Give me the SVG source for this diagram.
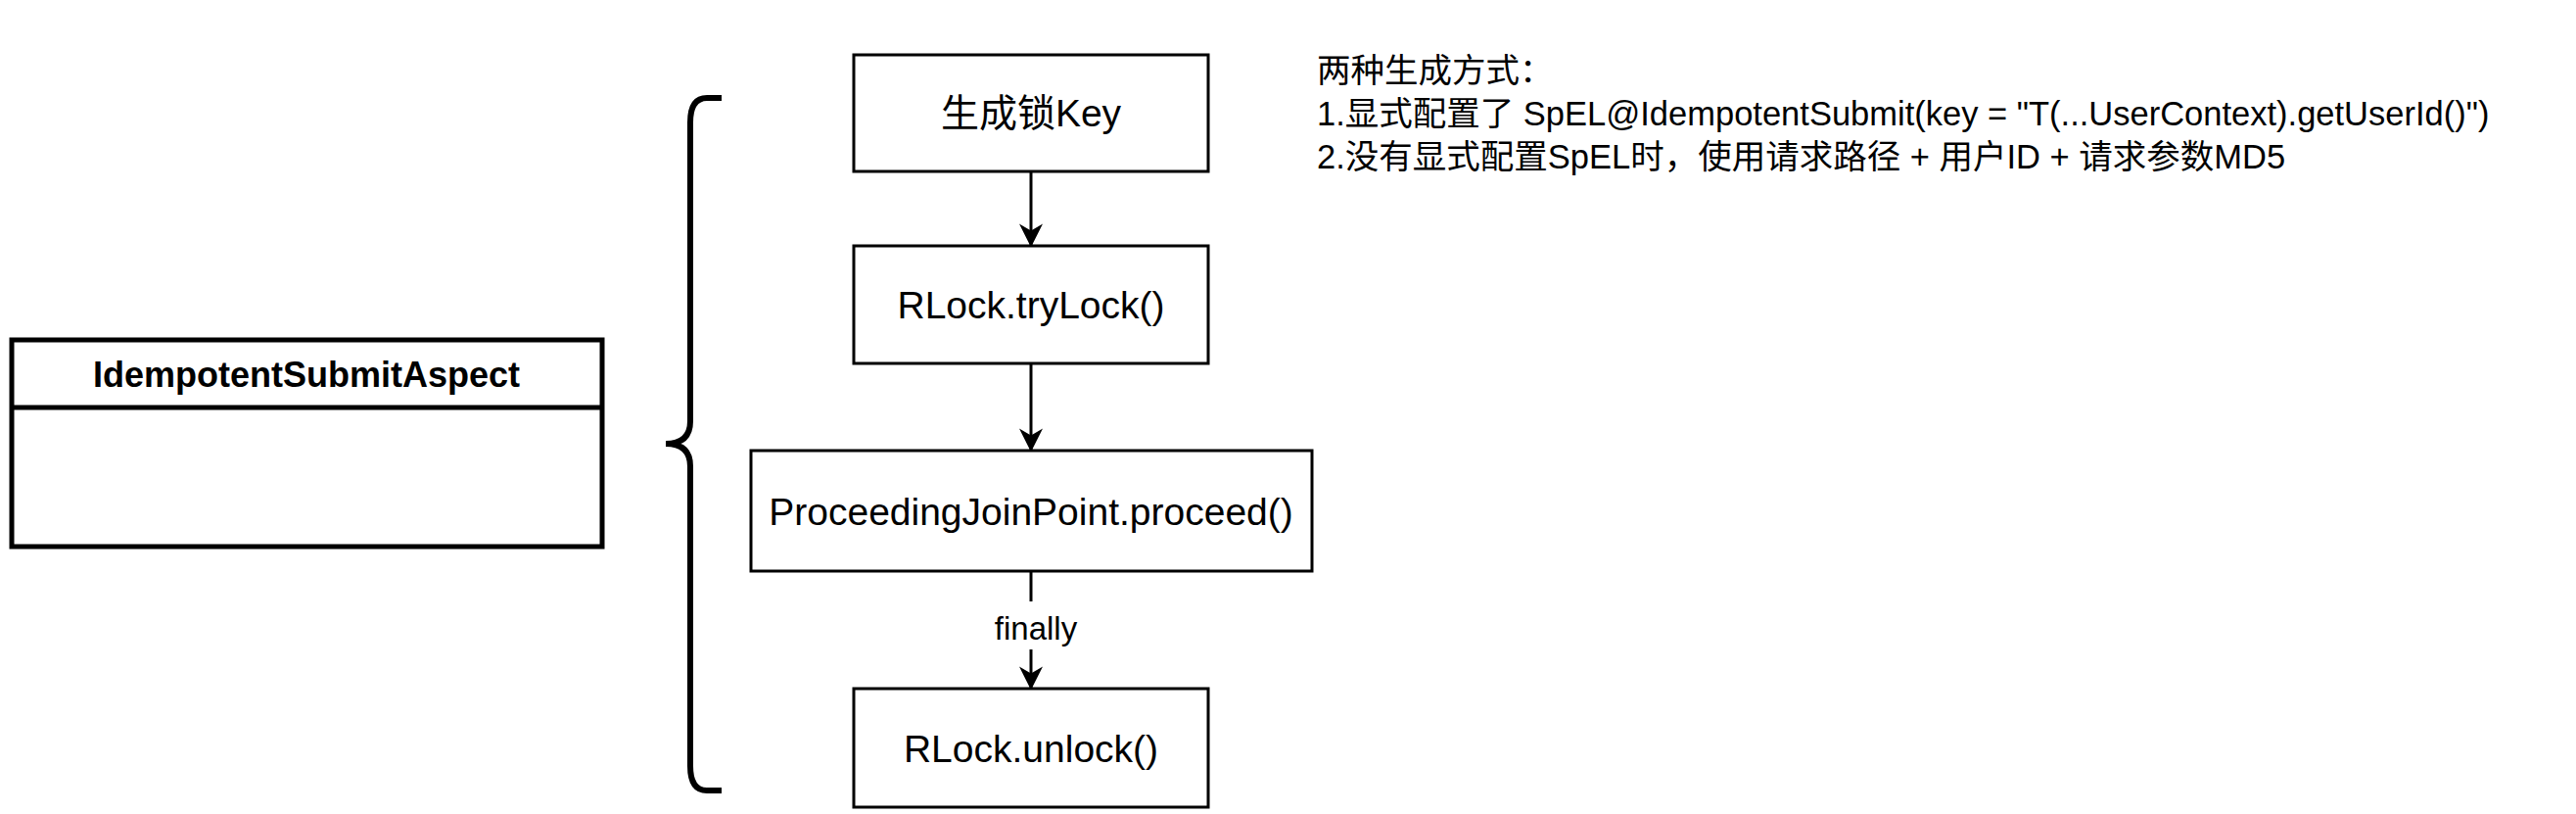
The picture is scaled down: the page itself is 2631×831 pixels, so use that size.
<svg xmlns="http://www.w3.org/2000/svg" width="2631" height="831" viewBox="0 0 2631 831">
<style>
.b{fill:#fff;stroke:#000;stroke-width:3}
.t{font-family:"Liberation Sans","Noto Sans CJK SC",sans-serif;font-size:39px;text-anchor:middle;dominant-baseline:central}
.n{font-family:"Liberation Sans","Noto Sans CJK SC",sans-serif;font-size:34.5px}
.c{stroke:#000;stroke-width:3;fill:none;marker-end:url(#a)}
</style>
<defs><marker id="a" viewBox="0 0 20 20" refX="18" refY="10" markerWidth="24" markerHeight="24" markerUnits="userSpaceOnUse" orient="auto"><path d="M0,0L20,10L0,20L6,10Z" fill="#000"/></marker></defs>
<rect width="2631" height="831" fill="#fff"/>
<g id="uml">
<rect x="12" y="347" width="603" height="211" fill="#fff" stroke="#000" stroke-width="5"/>
<line x1="12" y1="416" x2="615" y2="416" stroke="#000" stroke-width="5"/>
<text class="t" x="313" y="382" font-weight="bold" style="font-size:36px">IdempotentSubmitAspect</text>
</g>
<g id="brace"><path d="M737,100 H722 Q705,100 705,125 V430 Q705,453 680,453 Q705,453 705,476 V782 Q705,807 722,807 H737" fill="none" stroke="#000" stroke-width="6"/></g>
<g id="n1"><rect class="b" x="872" y="56" width="362" height="119"/><text class="t" x="1053" y="115">生成锁Key</text></g>
<g id="n2"><rect class="b" x="872" y="251" width="362" height="120"/><text class="t" x="1053" y="311">RLock.tryLock()</text></g>
<g id="n3"><rect class="b" x="767" y="460" width="573" height="123"/><text class="t" x="1053" y="522">ProceedingJoinPoint.proceed()</text></g>
<g id="n4"><rect class="b" x="872" y="703" width="362" height="121"/><text class="t" x="1053" y="764">RLock.unlock()</text></g>
<g id="connectors">
<line class="c" x1="1053" y1="175" x2="1053" y2="250"/>
<line class="c" x1="1053" y1="371" x2="1053" y2="459"/>
<line x1="1053" y1="583" x2="1053" y2="614" stroke="#000" stroke-width="3"/>
<line class="c" x1="1053" y1="663" x2="1053" y2="702"/>
<text class="t" x="1058" y="641" style="font-size:33px">finally</text>
</g>
<g id="note">
<text class="n" x="1345" y="84">两种生成方式：</text>
<text class="n" x="1345" y="128">1.显式配置了 SpEL@IdempotentSubmit(key = "T(...UserContext).getUserId()")</text>
<text class="n" x="1345" y="172">2.没有显式配置SpEL时，使用请求路径 + 用户ID + 请求参数MD5</text>
</g>
</svg>
